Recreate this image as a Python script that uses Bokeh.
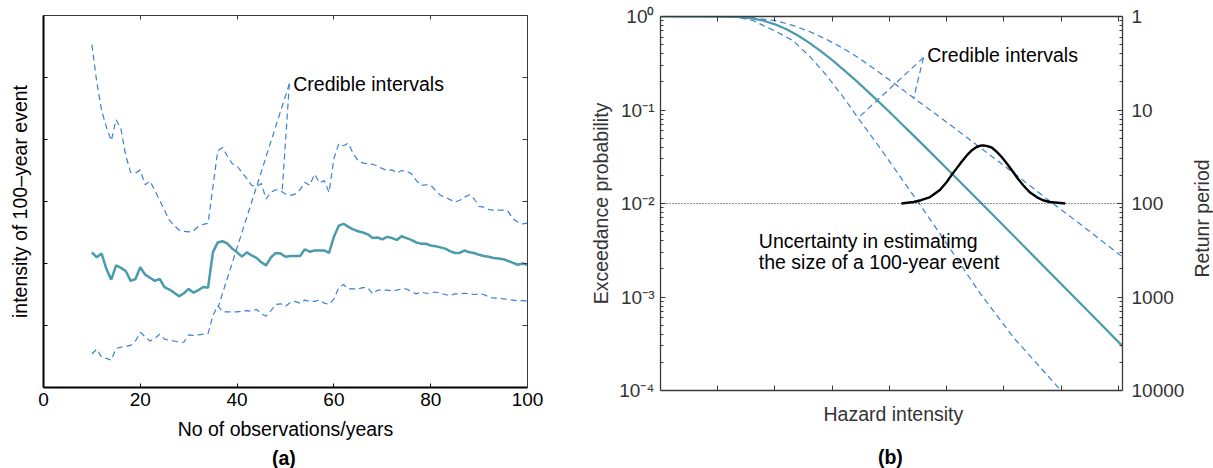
import math
from bokeh.plotting import figure
from bokeh.models import (Range1d, FixedTicker, LinearAxis, LogAxis, Label, Span,
                          CustomJSTickFormatter)
from bokeh.layouts import row, column
from bokeh.embed import file_html
from bokeh.resources import INLINE

# ---------------- panel (a) data ----------------
years = list(range(10, 101))
central_a = [2.18, 2.10, 2.16, 1.91, 1.74, 1.97, 1.93, 1.88, 1.72, 1.75,
             1.94, 1.82, 1.77, 1.72, 1.75, 1.62, 1.58, 1.53, 1.47, 1.52,
             1.59, 1.53, 1.57, 1.62, 1.61, 2.18, 2.34, 2.36, 2.32, 2.24,
             2.18, 2.11, 2.18, 2.13, 2.09, 2.02, 1.97, 2.10, 2.17, 2.16,
             2.11, 2.12, 2.12, 2.12, 2.23, 2.19, 2.21, 2.21, 2.21, 2.17,
             2.43, 2.61, 2.64, 2.59, 2.55, 2.52, 2.50, 2.47, 2.41, 2.42,
             2.39, 2.43, 2.41, 2.38, 2.44, 2.41, 2.38, 2.34, 2.32, 2.32,
             2.29, 2.28, 2.26, 2.24, 2.20, 2.17, 2.17, 2.21, 2.18, 2.17,
             2.14, 2.12, 2.11, 2.09, 2.08, 2.07, 2.04, 2.01, 1.98, 2.00,
             1.98]
upper_a = [5.53, 4.93, 4.47, 4.20, 3.98, 4.32, 4.17, 3.74, 3.47, 3.46,
           3.51, 3.27, 3.33, 3.18, 3.02, 2.86, 2.70, 2.61, 2.54, 2.52,
           2.51, 2.53, 2.60, 2.63, 2.65, 3.23, 3.82, 3.87, 3.73, 3.61,
           3.57, 3.47, 3.37, 3.26, 3.24, 3.29, 3.04, 3.15, 3.19, 3.17,
           3.12, 3.10, 3.12, 3.19, 3.31, 3.26, 3.44, 3.30, 3.34, 3.15,
           3.69, 3.93, 3.90, 3.94, 3.77, 3.66, 3.62, 3.61, 3.60, 3.57,
           3.53, 3.50, 3.51, 3.46, 3.50, 3.49, 3.45, 3.34, 3.26, 3.27,
           3.26, 3.18, 3.10, 3.07, 3.03, 2.99, 3.02, 3.07, 3.11, 3.04,
           2.92, 2.91, 2.87, 2.86, 2.86, 2.86, 2.84, 2.72, 2.67, 2.64,
           2.65]
lower_a = [0.54, 0.62, 0.49, 0.47, 0.44, 0.63, 0.65, 0.66, 0.68, 0.75,
           0.89, 0.82, 0.75, 0.79, 0.86, 0.78, 0.76, 0.75, 0.73, 0.73,
           0.85, 0.84, 0.85, 0.86, 0.87, 1.16, 1.32, 1.22, 1.22, 1.22,
           1.22, 1.23, 1.24, 1.23, 1.26, 1.19, 1.15, 1.24, 1.34, 1.35,
           1.31, 1.37, 1.39, 1.36, 1.41, 1.39, 1.39, 1.41, 1.36, 1.34,
           1.43, 1.61, 1.66, 1.59, 1.59, 1.59, 1.61, 1.61, 1.51, 1.57,
           1.57, 1.57, 1.56, 1.57, 1.59, 1.59, 1.55, 1.51, 1.54, 1.52,
           1.52, 1.54, 1.52, 1.50, 1.48, 1.51, 1.51, 1.52, 1.51, 1.50,
           1.51, 1.50, 1.46, 1.44, 1.44, 1.43, 1.42, 1.41, 1.40, 1.40,
           1.39]
x_ticks_a = [0, 20, 40, 60, 80, 100]
y_ticks_a = [1, 2, 3, 4, 5]
callout_a1_x = [50.8, 36.1]
callout_a1_y = [4.90, 1.30]
callout_a2_x = [50.8, 49.3]
callout_a2_y = [4.90, 3.15]

# ---------------- panel (b) data ----------------
haz_central = [0.0, 1.0, 1.33, 1.6, 1.8, 2.0, 2.2, 2.4, 2.6, 2.8, 3.0, 3.2, 3.4,
               3.6, 3.8, 4.0, 4.2, 4.4, 4.7, 5.0, 5.4, 5.8, 6.4, 7.0, 7.6, 8.07]
prob_central = [1.0, 0.999, 0.989, 0.954, 0.901, 0.8245, 0.730, 0.626, 0.522,
                0.426, 0.341, 0.269, 0.210, 0.1623, 0.1245, 0.0951, 0.0723,
                0.0549, 0.0361, 0.02368, 0.01343, 0.00761, 0.003238, 0.001375,
                0.000584, 0.000298]
haz_upper = [0.0, 1.3, 1.6, 2.0, 2.32, 2.61, 2.90, 3.19, 3.48, 3.78, 4.07, 4.42,
             5.0, 5.58, 6.16, 6.75, 7.33, 8.07]
prob_upper = [1.0, 1.0, 0.966, 0.905, 0.800, 0.688, 0.569, 0.457, 0.355, 0.263,
              0.195, 0.135, 0.0741, 0.0398, 0.0214, 0.0112, 0.00603, 0.00268]
haz_lower = [0.0, 1.0, 1.33, 1.62, 2.0, 2.32, 2.61, 2.90, 3.19, 3.48, 3.78, 4.07,
             4.33, 4.53, 5.0, 5.58, 6.16, 6.63, 6.98]
prob_lower = [1.0, 1.0, 0.984, 0.902, 0.70, 0.550, 0.372, 0.234, 0.138, 0.0776,
              0.0437, 0.0245, 0.0145, 0.00977, 0.00372, 0.00110, 0.000372,
              0.000178, 0.000102]
haz_bell = [4.21, 4.42, 4.55, 4.71, 4.88, 5.0, 5.08, 5.17, 5.26, 5.35, 5.44, 5.52,
            5.58, 5.64, 5.71, 5.79, 5.87, 5.96, 6.06, 6.16, 6.25, 6.34, 6.45,
            6.57, 6.68, 6.80, 7.07]
prob_bell = [0.0100, 0.01038, 0.01084, 0.01172, 0.01396, 0.01698, 0.0200, 0.0236,
             0.0279, 0.0327, 0.0372, 0.0402, 0.0414, 0.0419, 0.0411, 0.0395,
             0.0359, 0.0314, 0.0263, 0.0217, 0.0182, 0.0156, 0.0132, 0.01172,
             0.01084, 0.01038, 0.0100]
level_100yr = 0.01
decades_b = [1e-4, 1e-3, 1e-2, 1e-1, 1.0]
x_ticks_b = [1, 2, 3, 4, 5, 6, 7, 8]
callout_b1_x = [4.594, 3.441]
callout_b1_y = [0.364, 0.0811]
callout_b2_x = [4.594, 4.419]
callout_b2_y = [0.364, 0.1318]

FONT = "Liberation Sans"
TEAL = "#4a9bab"
BLUE = "#3d7fd6"
GREY = "#3a3a3a"
TXT_B = "#333333"
LBL = "19.5px"


def hide_labels(ax):
    ax.major_label_text_font_size = "0px"
    ax.major_label_text_color = None
    ax.major_label_standoff = 0


def plain_axis(ticks, color, width, tick_in):
    ax = LinearAxis(ticker=FixedTicker(ticks=ticks), major_tick_in=tick_in, major_tick_out=0,
                    minor_tick_line_color=None, axis_line_color=color, axis_line_width=width,
                    major_tick_line_color=color)
    hide_labels(ax)
    return ax


def strip(w, h):
    """Blank figure whose frame is the whole canvas, measured in pixels."""
    s = figure(width=w, height=h, min_border_left=0, min_border_right=0,
               min_border_top=0, min_border_bottom=0,
               x_range=Range1d(0, w), y_range=Range1d(0, h),
               x_axis_type=None, y_axis_type=None,
               output_backend="svg", toolbar_location=None, title_location=None)
    s.outline_line_color = None
    s.xgrid.visible = False
    s.ygrid.visible = False
    return s


# ================= panel (a) =================
pa = figure(width=570, height=446, min_border_left=43, min_border_right=43,
            min_border_top=15, min_border_bottom=59,
            x_range=Range1d(0, 100), y_range=Range1d(0, 6),
            output_backend="svg", toolbar_location=None, title_location=None)
pa.xgrid.visible = False
pa.ygrid.visible = False
pa.outline_line_color = None

xa = pa.xaxis[0]
xa.ticker = FixedTicker(ticks=x_ticks_a)
xa.major_tick_in = 4
xa.major_tick_out = 0
xa.minor_tick_line_color = None
xa.axis_line_width = 2
xa.axis_line_color = "black"
xa.major_tick_line_color = "black"
xa.major_label_text_font = FONT
xa.major_label_text_font_size = "19px"
xa.major_label_text_color = "black"
xa.major_label_standoff = 5
xa.axis_label = "No of observations/years"
xa.axis_label_text_font = FONT
xa.axis_label_text_font_size = LBL
xa.axis_label_text_font_style = "normal"
xa.axis_label_text_color = "black"
xa.axis_label_standoff = 9

ya = pa.yaxis[0]
ya.ticker = FixedTicker(ticks=y_ticks_a)
ya.major_tick_in = 4
ya.major_tick_out = 0
ya.minor_tick_line_color = None
ya.axis_line_width = 2
ya.axis_line_color = "black"
ya.major_tick_line_color = "black"
hide_labels(ya)
ya.axis_label = "intensity of 100\u2013year event"
ya.axis_label_text_font = FONT
ya.axis_label_text_font_size = LBL
ya.axis_label_text_font_style = "normal"
ya.axis_label_text_color = "black"
ya.axis_label_standoff = 13

pa.add_layout(plain_axis(x_ticks_a, GREY, 1, 4), "above")
pa.add_layout(plain_axis(y_ticks_a, GREY, 1, 5), "right")

pa.line(years, upper_a, line_color=BLUE, line_width=1.2, line_dash="6 4")
pa.line(years, lower_a, line_color=BLUE, line_width=1.2, line_dash="6 4")
pa.line(callout_a1_x, callout_a1_y, line_color=BLUE, line_width=1.2, line_dash="6 4")
pa.line(callout_a2_x, callout_a2_y, line_color=BLUE, line_width=1.2, line_dash="6 4")
pa.line(years, central_a, line_color=TEAL, line_width=2.5)

pa.add_layout(Label(x=51.6, y=4.90, text="Credible intervals", text_font=FONT,
                    text_font_size=LBL, text_align="left", text_baseline="middle",
                    text_color="black"))

sa = strip(570, 22)
sa.add_layout(Label(x=283, y=11, text="(a)", text_font=FONT, text_font_style="bold",
                    text_font_size=LBL, text_align="center", text_baseline="middle",
                    text_color="black"))

# ================= panel (b) =================
pb = figure(width=619, height=402, min_border_left=90, min_border_right=67,
            min_border_top=16, min_border_bottom=12,
            x_range=Range1d(0, 8.07), y_range=Range1d(1e-4, 1.0), y_axis_type="log",
            output_backend="svg", toolbar_location=None, title_location=None)
pb.xgrid.visible = False
pb.ygrid.visible = False
pb.outline_line_color = None

minor_b = [k * d for d in decades_b[:-1] for k in range(2, 10)]

xb = pb.xaxis[0]
xb.ticker = FixedTicker(ticks=x_ticks_b)
xb.major_tick_in = 5
xb.major_tick_out = 0
xb.minor_tick_line_color = None
xb.axis_line_color = GREY
xb.axis_line_width = 1.3
xb.major_tick_line_color = GREY
hide_labels(xb)

sup_code = """
const sup = {"0":"\u2070","1":"\u00b9","2":"\u00b2","3":"\u00b3","4":"\u2074","-":"\u207b"};
const e = Math.round(Math.log10(tick));
return "10" + String(e).split("").map(c => sup[c]).join("");
"""
yb = pb.yaxis[0]
yb.ticker = FixedTicker(ticks=decades_b, minor_ticks=minor_b)
yb.formatter = CustomJSTickFormatter(code=sup_code)
yb.major_tick_in = 5
yb.major_tick_out = 0
yb.minor_tick_in = 3
yb.minor_tick_out = 0
yb.axis_line_color = GREY
yb.axis_line_width = 1.3
yb.major_tick_line_color = GREY
yb.minor_tick_line_color = GREY
yb.major_label_text_font = FONT
yb.major_label_text_font_size = "19px"
yb.major_label_text_color = TXT_B
yb.major_label_standoff = 6
yb.axis_label = "Exceedance probability"
yb.axis_label_text_font = FONT
yb.axis_label_text_font_size = LBL
yb.axis_label_text_font_style = "normal"
yb.axis_label_text_color = TXT_B
yb.axis_label_standoff = 4

pb.add_layout(plain_axis(x_ticks_b, GREY, 1.3, 5), "above")
right_b = LogAxis(ticker=FixedTicker(ticks=decades_b, minor_ticks=minor_b),
                  formatter=CustomJSTickFormatter(code="return String(Math.round(1/tick));"),
                  major_tick_in=5, major_tick_out=0, minor_tick_in=3, minor_tick_out=0,
                  axis_line_color=GREY, axis_line_width=1.3,
                  major_tick_line_color=GREY, minor_tick_line_color=GREY,
                  major_label_text_font=FONT, major_label_text_font_size="19px",
                  major_label_text_color=TXT_B, major_label_standoff=9)
pb.add_layout(right_b, "right")

pb.add_layout(Span(location=level_100yr, dimension="width", line_color="#222222",
                   line_width=1, line_dash="1 2"))
pb.line(haz_upper, prob_upper, line_color=BLUE, line_width=1.2, line_dash="6 4")
pb.line(haz_lower, prob_lower, line_color=BLUE, line_width=1.2, line_dash="6 4")
pb.line(callout_b1_x, callout_b1_y, line_color=BLUE, line_width=1.2, line_dash="6 4")
pb.line(callout_b2_x, callout_b2_y, line_color=BLUE, line_width=1.2, line_dash="6 4")
pb.line(haz_central, prob_central, line_color=TEAL, line_width=2.2)
pb.line(haz_bell, prob_bell, line_color="black", line_width=2.4)

pb.add_layout(Label(x=4.66, y=0.383, text="Credible intervals", text_font=FONT,
                    text_font_size=LBL, text_align="left", text_baseline="middle",
                    text_color="black"))
pb.add_layout(Label(x=1.717, y=0.00402, text="Uncertainty in estimatimg", text_font=FONT,
                    text_font_size=LBL, text_align="left", text_baseline="middle",
                    text_color="black"))
pb.add_layout(Label(x=1.717, y=0.00234, text="the size of a 100-year event", text_font=FONT,
                    text_font_size=LBL, text_align="left", text_baseline="middle",
                    text_color="black"))

sb = strip(619, 66)
sb.add_layout(Label(x=312, y=54.5, text="Hazard intensity", text_font=FONT,
                    text_font_size=LBL, text_align="center", text_baseline="middle",
                    text_color=TXT_B))
sb.add_layout(Label(x=308, y=11.5, text="(b)", text_font=FONT, text_font_style="bold",
                    text_font_size=LBL, text_align="center", text_baseline="middle",
                    text_color="black"))

# ---- narrow strip carrying the right-hand axis title (reads bottom to top) ----
pc = strip(24, 468)
pc.add_layout(Label(x=12.7, y=250, text="Retunr period", text_font=FONT,
                    text_font_size=LBL, text_align="center", text_baseline="middle",
                    angle=math.pi / 2, text_color=TXT_B))

layout = row(column(pa, sa), column(pb, sb), pc)
open("out.html", "w").write(file_html(layout, INLINE))
